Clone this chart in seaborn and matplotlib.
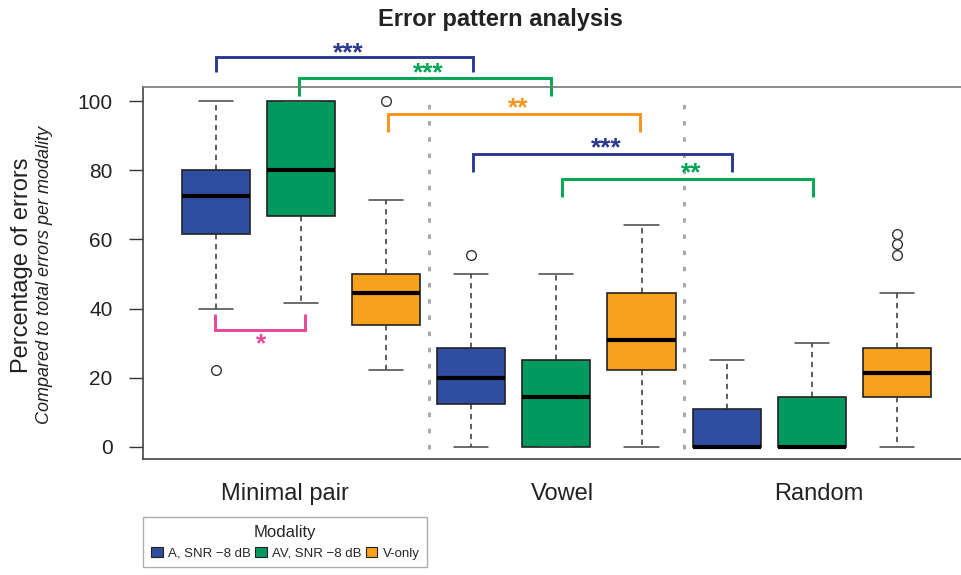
import numpy as np
import matplotlib
matplotlib.use('Agg')
import matplotlib.pyplot as plt
from matplotlib.patches import Patch
import seaborn as sns

sns.set_theme(style='white')
plt.rcParams['font.family'] = ['Liberation Sans', 'DejaVu Sans']

# data
groups = ['Minimal pair', 'Vowel', 'Random']
modalities = ['A, SNR \u22128 dB', 'AV, SNR \u22128 dB', 'V-only']
box_colors = ['#2F4EA1', '#00995E', '#F7A11D']

whislo = [40.0, 41.7, 22.2, 0.0, 0.0, 0.0, 0.0, 0.0, 0.0]
q1 = [61.5, 66.7, 35.3, 12.5, 0.0, 22.2, 0.0, 0.0, 14.3]
med = [72.7, 80.0, 44.4, 20.0, 14.3, 30.8, 0.0, 0.0, 21.4]
q3 = [80.0, 100.0, 50.0, 28.6, 25.0, 44.4, 11.1, 14.3, 28.6]
whishi = [100.0, 100.0, 71.4, 50.0, 50.0, 64.3, 25.0, 30.0, 44.4]
fliers = [[22.2], [], [100.0], [55.6], [], [], [], [], [55.6, 58.8, 61.5]]

# significance brackets
br_left = [1.0, 1.98, 3.02, 4.02, 5.07, 0.985]
br_right = [4.02, 4.94, 5.98, 7.06, 8.02, 2.04]
br_bar = [112.8, 106.6, 96.2, 84.6, 77.4, 33.8]
br_tip = [108.5, 101.5, 91.1, 79.6, 72.3, 38.4]
br_label = ['***', '***', '**', '***', '**', '*']
br_label_x = [2.55, 3.49, 4.55, 5.59, 6.59, 1.53]
br_label_y = [113.9, 108.2, 97.8, 86.3, 79.1, 29.8]
br_color = ['#2B3990', '#00A651', '#F7941D', '#2B3990', '#00A651', '#E8479A']

group_label_x = [1.81, 5.07, 8.08]

W, H = 961, 575
fig = plt.figure(figsize=(W / 100, H / 100), dpi=100)
ax = fig.add_axes([143 / W, 1 - 459 / H, (W - 143) / W, (459 - 87) / H])

positions = np.arange(1, len(med) + 1)
stats = []
for i in range(len(med)):
    stats.append(dict(whislo=whislo[i], q1=q1[i], med=med[i], q3=q3[i],
                      whishi=whishi[i], fliers=fliers[i]))

bp = ax.bxp(stats, positions=positions, widths=0.8, patch_artist=True,
            showfliers=True, capwidths=0.4,
            boxprops=dict(edgecolor='#222222', linewidth=1.2),
            whiskerprops=dict(color='#333333', linestyle=(0, (3.5, 3)), linewidth=1.1),
            capprops=dict(color='#444444', linewidth=1.1),
            medianprops=dict(color='black', linewidth=3, solid_capstyle='butt'),
            flierprops=dict(marker='o', markerfacecolor='none', markeredgecolor='#333333',
                            markersize=7, markeredgewidth=1))
for i, patch in enumerate(bp['boxes']):
    patch.set_facecolor(box_colors[i % 3])

# group separators
for xs in [3.5, 6.5]:
    ax.plot([xs, xs], [-0.5, 102.5], color='#AAAAAA', linewidth=2.2,
            linestyle=(0, (1.5, 3.8)), zorder=0.5)

for l, r, bar, tip, c in zip(br_left, br_right, br_bar, br_tip, br_color):
    ax.plot([l, l, r, r], [tip, bar, bar, tip], color=c, linewidth=2.1,
            clip_on=False, solid_joinstyle='miter', solid_capstyle='butt')
for s, x, y, c in zip(br_label, br_label_x, br_label_y, br_color):
    ax.text(x, y, s, ha='center', va='center', fontsize=19, fontweight='bold',
            color=c, clip_on=False)

ax.set_xlim(1 + (143 - 216) / 85.1, 1 + (W - 216) / 85.1)
ax.set_ylim(-3.5, 104.1)
ax.set_yticks([0, 20, 40, 60, 80, 100])
ax.set_xticks([])
ax.tick_params(axis='y', which='both', left=True, length=10, width=1,
               color='#333333', pad=12, labelsize=15, labelcolor='#222222')
for side in ['left', 'bottom', 'top']:
    ax.spines[side].set_color('#444444')
    ax.spines[side].set_linewidth(1.2)
ax.spines['top'].set_color('#777777')
ax.spines['right'].set_visible(False)

for x, g in zip(group_label_x, groups):
    ax.text(x, -0.095, g, transform=ax.get_xaxis_transform(), ha='center',
            va='center', fontsize=17, color='#222222')

fig.text(0.521, 0.966, 'Error pattern analysis', ha='center', va='center',
         fontsize=17, fontweight='bold', color='#222222')
fig.text(22 / W, 1 - 265 / H, 'Percentage of errors', rotation=90, ha='center',
         va='center', fontsize=17, color='#222222')
fig.text(45 / W, 1 - 275 / H, 'Compared to total errors per modality', rotation=90,
         ha='center', va='center', fontsize=13, style='italic', color='#222222')

handles = [Patch(facecolor=c, edgecolor='#222222', linewidth=0.8) for c in box_colors]
leg = fig.legend(handles, modalities, title='Modality', ncol=3, loc='upper left',
                 bbox_to_anchor=(143 / W, 1 - 517 / H), frameon=True, fancybox=False,
                 edgecolor='#999999', fontsize=9.5, title_fontsize=12,
                 handlelength=0.9, handleheight=0.9, columnspacing=0.3,
                 handletextpad=0.4, borderaxespad=0, borderpad=0.6)
leg.get_frame().set_linewidth(1)

fig.savefig('out.png', dpi=100)
